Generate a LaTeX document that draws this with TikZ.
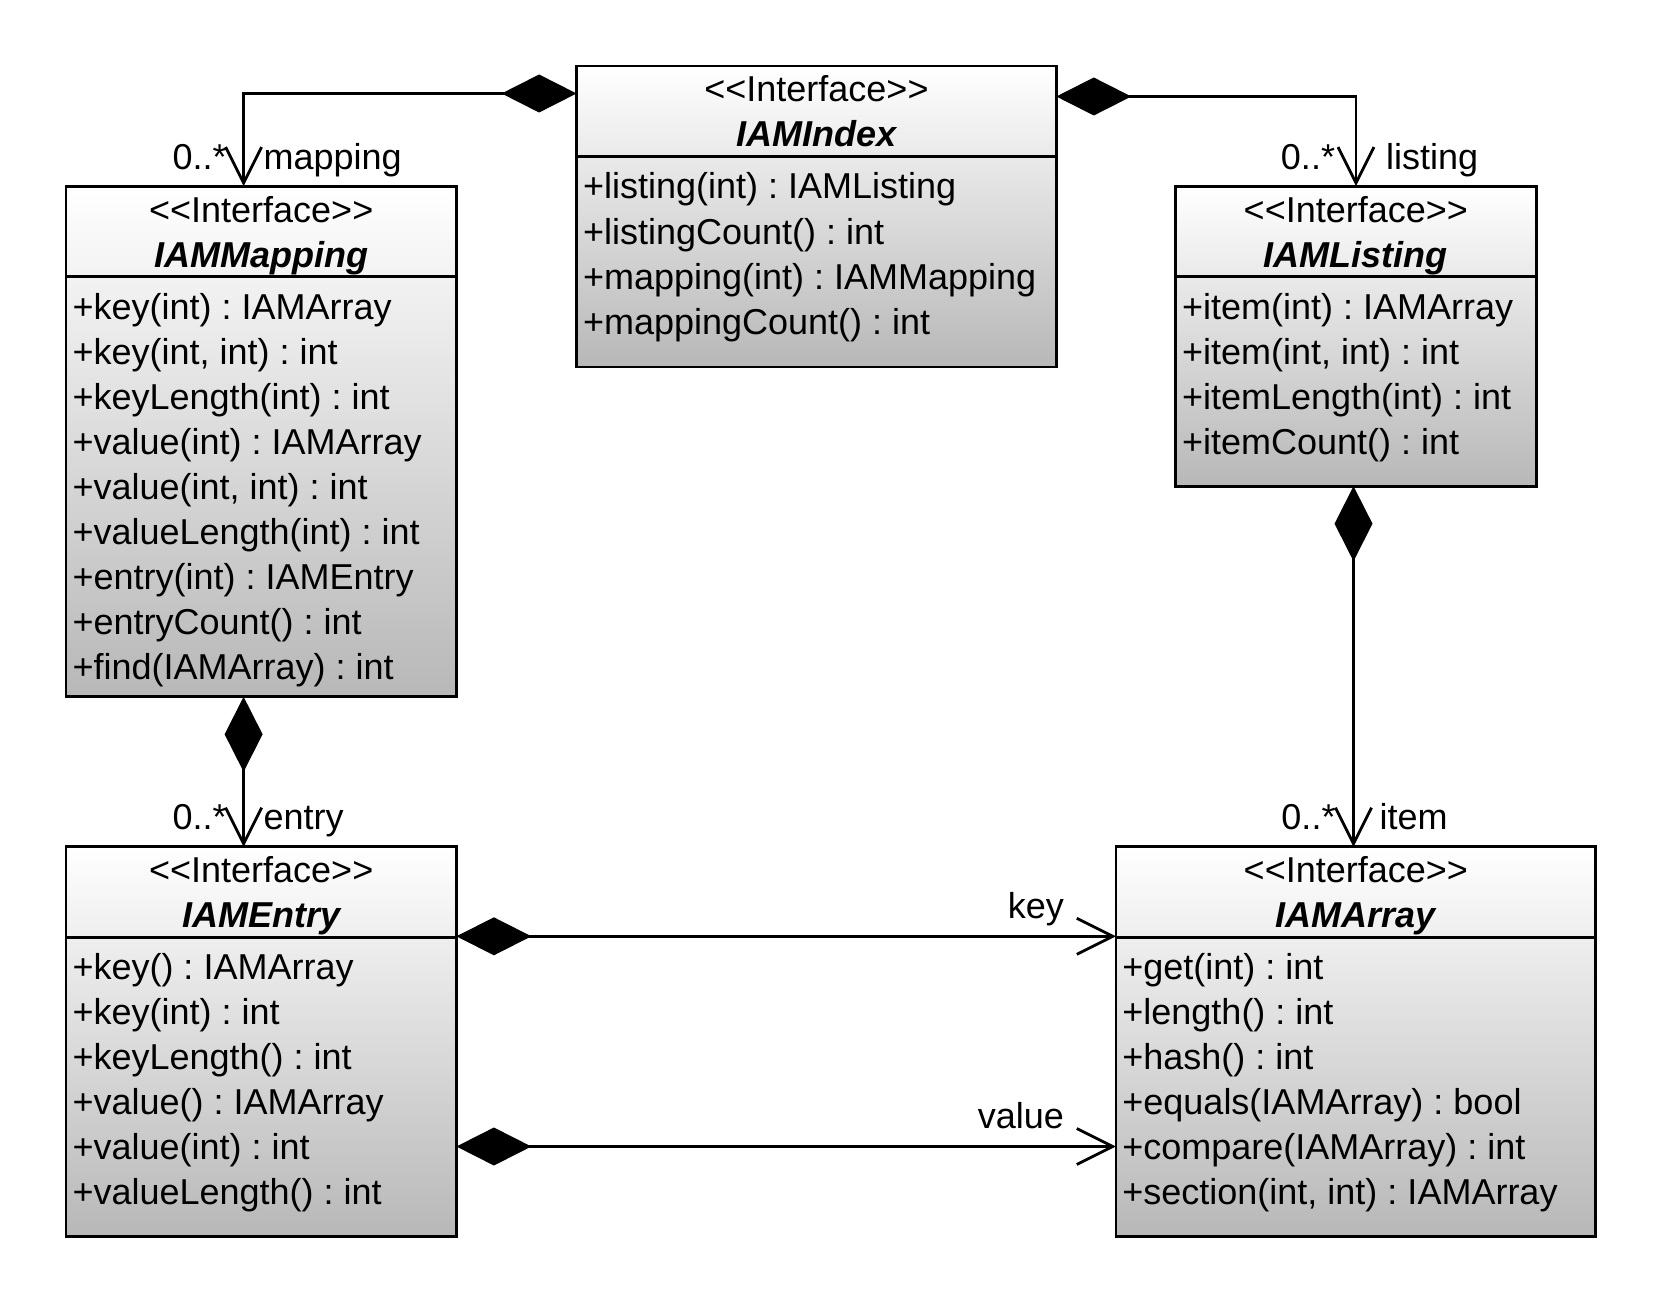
\documentclass[tikz,border=0pt]{standalone}
\usepackage{fontspec}
\setmainfont{Liberation Sans}
\usetikzlibrary{arrows.meta,calc}
\frenchspacing
\tikzset{
  boxline/.style={line width=2.8pt},
  classbox/.style={draw, line width=2.8pt, rectangle, inner sep=0pt, outer sep=0pt,
    top color=white, bottom color=black!28},
  txt/.style={inner sep=0pt, outer sep=0pt, font=\fontsize{36}{43}\selectfont\frenchspacing},
  ttl/.style={inner sep=0pt, outer sep=0pt, font=\fontsize{36}{43}\selectfont\bfseries\itshape},
  conn/.style={line width=2.8pt, line join=miter,
    {Diamond[length=75pt,width=38pt]}-{Straight Barb[length=36pt,width=36pt]}},
}
\newcommand{\umlclass}[7]{%
  \node[classbox, minimum width=#4pt, minimum height=#5pt, anchor=north west] (#1) at (#2,#3) {};
  \draw[boxline] ([yshift=-90.5pt]#1.north west) -- ([yshift=-90.5pt]#1.north east);
  \node[txt, anchor=base] (#1-st) at ([yshift=-36pt]#1.north) {<\kern0pt<Interface>\kern0pt>};
  \node[ttl, anchor=base] (#1-nm) at ([yshift=-81pt]#1.north) {#6};
  \foreach \attr [count=\i from 0] in {#7}
    \node[txt, anchor=base west] (#1-a\i) at ([xshift=6.5pt, yshift={-(133+45*\i)*1pt}]#1.north west) {\attr};
}
\begin{document}
\begin{tikzpicture}[x=1pt, y=-1pt]
\useasboundingbox (0,0) rectangle (1668,1308);

\umlclass{idx}{576.6}{66}{479.7}{301}{IAMIndex}{%
  {+listing(int) : IAMListing},{+listingCount() : int},{+mapping(int) : IAMMapping},{+mappingCount() : int}}
\umlclass{map}{66}{186.2}{390.4}{510.6}{IAMMapping}{%
  {+key(int) : IAMArray},{+key(int, int) : int},{+keyLength(int) : int},{+value(int) : IAMArray},%
  {+value(int, int) : int},{+valueLength(int) : int},{+entry(int) : IAMEntry},{+entryCount() : int},%
  {+find(IAMArray) : int}}
\umlclass{lst}{1175.5}{186.2}{360.6}{300}{IAMListing}{%
  {+item(int) : IAMArray},{+item(int, int) : int},{+itemLength(int) : int},{+itemCount() : int}}
\umlclass{ent}{66}{846.8}{390.4}{389.3}{IAMEntry}{%
  {+key() : IAMArray},{+key(int) : int},{+keyLength() : int},{+value() : IAMArray},%
  {+value(int) : int},{+valueLength() : int}}
\umlclass{arr}{1115.9}{846.8}{479.8}{389.3}{IAMArray}{%
  {+get(int) : int},{+length() : int},{+hash() : int},{+equals(IAMArray) : bool},%
  {+compare(IAMArray) : int},{+section(int, int) : IAMArray}}

\coordinate (c1) at (243.6, 93.5);
\coordinate (c2) at (1356, 96.5);
\coordinate (c3) at (1353.5, 700);
\coordinate (ck) at (700, 936.3);
\coordinate (cv) at (700, 1146.5);

\draw[conn] (idx.west |- c1) -- (c1) -- (map.north -| c1);
\draw[conn] (idx.east |- c2) -- (c2) -- (lst.north -| c2);
\draw[conn] (map.south -| c1) -- (ent.north -| c1);
\draw[conn] (lst.south -| c3) -- (arr.north -| c3);
\draw[conn] (ent.east |- ck) -- (arr.west |- ck);
\draw[conn] (ent.east |- cv) -- (arr.west |- cv);

\node[txt, anchor=base east] (lm1) at ($(map.north -| c1)+(-17,-17)$) {0..*};
\node[txt, anchor=base west] (lm2) at ($(map.north -| c1)+(20,-17)$) {mapping};
\node[txt, anchor=base east] (ll1) at ($(lst.north -| c2)+(-21,-17)$) {0..*};
\node[txt, anchor=base west] (ll2) at ($(lst.north -| c2)+(30,-17)$) {listing};
\node[txt, anchor=base east] (le1) at ($(ent.north -| c1)+(-17,-17)$) {0..*};
\node[txt, anchor=base west] (le2) at ($(ent.north -| c1)+(20,-17)$) {entry};
\node[txt, anchor=base east] (li1) at ($(arr.north -| c3)+(-18,-17)$) {0..*};
\node[txt, anchor=base west] (li2) at ($(arr.north -| c3)+(26,-17)$) {item};
\node[txt, anchor=base east] (lk) at ($(arr.west |- ck)+(-52,-18)$) {key};
\node[txt, anchor=base east] (lv) at ($(arr.west |- cv)+(-52,-18)$) {value};
\end{tikzpicture}
\end{document}
